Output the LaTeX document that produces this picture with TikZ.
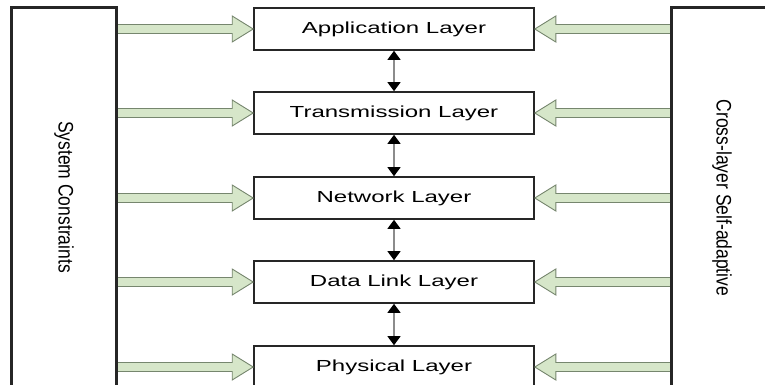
\documentclass[tikz,border=0pt]{standalone}
\usepackage{fontspec}
\setmainfont{Liberation Sans}
\usetikzlibrary{arrows.meta,calc}

\definecolor{feedfill}{HTML}{D6E6C9}
\definecolor{feededge}{HTML}{76866E}

\tikzset{
  layerbox/.style={draw=black!85, line width=1.6pt, fill=white,
    minimum width=280pt, minimum height=42pt, inner sep=0pt,
    font=\fontsize{16}{19}\selectfont},
  sidebox/.style={draw=black!85, line width=1.6pt, fill=white,
    minimum width=104pt, minimum height=382pt, inner sep=0pt},
  sidetext/.style={rotate=-90, font=\fontsize{17.5}{20}\selectfont, inner sep=0pt},
  feed/.style={fill=feedfill, draw=feededge, line width=0.9pt, line join=miter},
  dbl/.style={draw=black!45, line width=1.2pt,
    {Triangle[width=13pt,length=9pt,color=black]}-{Triangle[width=13pt,length=9pt,color=black]}},
}

% horizontal block arrow from #1 to #2, pointing at #2
\newcommand\feedarrow[2]{%
  \filldraw[feed] let \p1=(#1), \p2=(#2), \n1={sign(\x2-\x1)} in
    (\x1,{\y1+4.5pt}) -- ({\x2-21pt*\n1},{\y1+4.5pt}) -- ({\x2-21pt*\n1},{\y1+13pt})
    -- (\x2,\y1) -- ({\x2-21pt*\n1},{\y1-13pt}) -- ({\x2-21pt*\n1},{\y1-4.5pt})
    -- (\x1,{\y1-4.5pt}) -- cycle;}

\begin{document}
\begin{tikzpicture}[x=1pt, y=-1pt]
  \useasboundingbox (0,0) rectangle (765,385);

  % protocol stack
  \node[layerbox] (app)   at (394,29)  {\scalebox{1.5}[1]{Application Layer}};
  \node[layerbox] (trans) at (394,113) {\scalebox{1.5}[1]{Transmission Layer}};
  \node[layerbox] (net)   at (394,198) {\scalebox{1.5}[1]{Network Layer}};
  \node[layerbox] (dll)   at (394,282) {\scalebox{1.5}[1]{Data Link Layer}};
  \node[layerbox] (phy)   at (394,367) {\scalebox{1.5}[1]{Physical Layer}};

  % side blocks
  \node[sidebox] (sys) at (64,199) {};
  \node[sidebox] (cross) at (724,199) {};
  \node[sidetext] (systxt) at (64,197) {\scalebox{1}[1.2]{System Constraints}};
  \node[sidetext] (crosstxt) at (722,198) {\scalebox{1}[1.2]{Cross-layer Self-adaptive}};

  % links between adjacent layers
  \draw[dbl] (app) -- (trans);
  \draw[dbl] (trans) -- (net);
  \draw[dbl] (net) -- (dll);
  \draw[dbl] (dll) -- (phy);

  % constraints and adaptation feeding every layer
  \foreach \l in {app,trans,net,dll,phy}{
    \feedarrow{sys.east |- \l.west}{\l.west}
    \feedarrow{cross.west |- \l.east}{\l.east}
  }

  % redraw side block borders over the arrow ends
  \draw[draw=black!85, line width=1.6pt] (sys.north west) rectangle (sys.south east);
  \draw[draw=black!85, line width=1.6pt] (cross.north west) rectangle (cross.south east);
\end{tikzpicture}
\end{document}
